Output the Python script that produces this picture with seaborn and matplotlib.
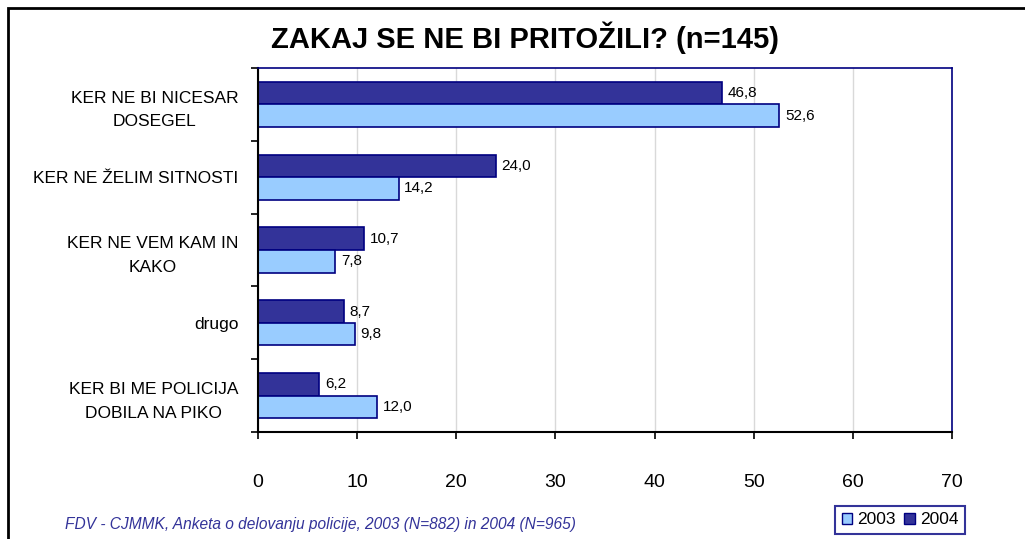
import matplotlib
matplotlib.use("Agg")
import matplotlib.pyplot as plt
import seaborn as sns
import pandas as pd
from matplotlib.patches import Patch, Rectangle

categories = ["KER NE BI NICESAR\nDOSEGEL", "KER NE ŽELIM SITNOSTI", "KER NE VEM KAM IN\nKAKO",
              "drugo", "KER BI ME POLICIJA\nDOBILA NA PIKO"]
values_2003 = [52.6, 14.2, 7.8, 9.8, 12.0]
values_2004 = [46.8, 24.0, 10.7, 8.7, 6.2]
years = ["2003", "2004"]
xticks = [0, 10, 20, 30, 40, 50, 60, 70]

df = pd.DataFrame({
    "cat": categories * 2,
    "val": values_2004 + values_2003,
    "year": ["2004"] * 5 + ["2003"] * 5,
})

sns.set_theme(style="white")
plt.rcParams['font.family'] = ['Liberation Sans', 'DejaVu Sans']
plt.rcParams['text.color'] = 'black'
plt.rcParams['xtick.color'] = 'black'
plt.rcParams['ytick.color'] = 'black'
plt.rcParams['axes.labelcolor'] = 'black'

c2003 = "#99CCFF"
c2004 = "#333399"
edge = "#000080"

fig = plt.figure(figsize=(10.25, 5.39), dpi=100)
ax = fig.add_axes([258/1025, 1-432/539, (952-258)/1025, (432-68)/539])

sns.barplot(data=df, x="val", y="cat", hue="year", hue_order=["2004", "2003"],
            order=categories, palette={"2003": c2003, "2004": c2004},
            orient="h", width=0.62, edgecolor=edge, linewidth=1.2, ax=ax, legend=False,
            saturation=1)

ax.set_xlim(0, 70)
ax.set_ylim(len(categories) - 0.5, -0.5)
ax.set_xticks(xticks)
ax.set_xticklabels([str(t) for t in xticks], fontsize=14)
ax.tick_params(axis="x", bottom=True, direction="out", length=5, width=1.2, color="black", pad=25)
ax.set_yticks(range(len(categories)))
ax.set_yticklabels(categories, fontsize=12.5, linespacing=1.7)
ax.tick_params(axis="y", which="major", left=True, length=0, pad=14)
ax.set_yticks([i + 0.5 for i in range(-1, len(categories))], minor=True)
ax.tick_params(axis="y", which="minor", left=True, direction="out", length=5, width=1.2, color="black")
for lbl in ax.get_yticklabels():
    lbl.set_horizontalalignment("right")
    lbl.set_multialignment("center")
ax.set_xlabel("")
ax.set_ylabel("")
ax.grid(axis="x", color="#D9D9D9", linewidth=1)
ax.set_axisbelow(True)

for s in ["left", "bottom"]:
    ax.spines[s].set_color("black")
    ax.spines[s].set_linewidth(1.5)
for s in ["top", "right"]:
    ax.spines[s].set_color(edge)
    ax.spines[s].set_linewidth(1.2)

for cont in ax.containers:
    ax.bar_label(cont, labels=[f"{v:.1f}".replace(".", ",") for v in cont.datavalues],
                 padding=4, fontsize=11)

fig.text(525/1025, 1 - 38/539, "ZAKAJ SE NE BI PRITOŽILI? (n=145)", ha="center", va="center",
         fontsize=21, fontweight="bold")

fig.text(65/1025, 1 - 525/539, "FDV - CJMMK, Anketa o delovanju policije, 2003 (N=882) in 2004 (N=965)",
         ha="left", va="center", fontsize=11.2, style="italic", color="#333399")

handles = [Patch(facecolor=c2003, edgecolor=edge, label="2003"),
           Patch(facecolor=c2004, edgecolor=edge, label="2004")]
leg = fig.legend(handles=handles, loc="center", bbox_to_anchor=(900/1025, 1 - 520/539), ncol=2,
                 fontsize=12.5, frameon=True, handlelength=0.6, handleheight=0.6,
                 handletextpad=0.3, columnspacing=0.5, borderpad=0.35, fancybox=False,
                 borderaxespad=0)
leg.get_frame().set_edgecolor(edge)
leg.get_frame().set_linewidth(1.5)

fig.add_artist(Rectangle((8/1025, -0.1), 1.2, 1 - 8/539 + 0.1, transform=fig.transFigure,
                         fill=False, edgecolor="black", linewidth=2))

fig.savefig("out.png", dpi=100)
